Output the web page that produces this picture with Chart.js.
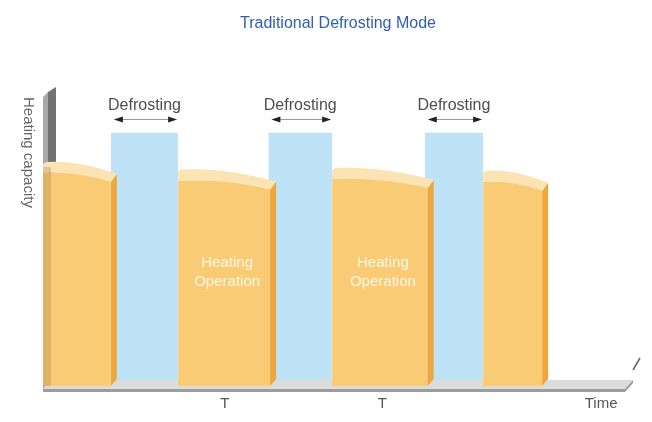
<!DOCTYPE html>
<html>
<head>
<meta charset="utf-8">
<script src="https://cdn.jsdelivr.net/npm/chart.js@4"></script>
<style>
  html, body { margin: 0; padding: 0; background: #fff; }
  #wrap { width: 652px; height: 422px; }
</style>
</head>
<body>
<div id="wrap"><canvas id="defrostChart" width="652" height="422"></canvas></div>
<script>
// heating periods (time units 0..100, capacity 0..100)
var heatStart = [0, 22.9, 49, 74.6];
var heatEnd = [11.5, 38.5, 65.2, 84.6];
var heatLevel = [71.5, 69, 69.5, 68.5];
var heatLabels = ["", "Heating\nOperation", "Heating\nOperation", ""];

// defrost periods
var defrostStart = [11.5, 38.2, 64.7];
var defrostEnd = [22.9, 49, 74.6];
var defrostLevel = [85, 85, 85];
var defrostLabel = "Defrosting";

var tickValues = [30.8, 57.5, 94.6];
var tickLabels = ["T", "T", "Time"];

var FONT = "'Liberation Sans', Arial, sans-serif";
var orange = "#F9CB74";
var orangeSide = "#EFA73C";
var orangeTop = "#FCE3B3";
var blue = "#BEE3F6";

var datasets = [];
heatStart.forEach(function (x0, i) {
    var x1 = heatEnd[i], h = heatLevel[i];
    datasets.push({
        label: "heat" + i,
        data: [{x: x0, y: 0}, {x: x0, y: h}, {x: x1, y: h}, {x: x1, y: 0}],
        backgroundColor: orange,
        borderWidth: 0,
        pointRadius: 0,
        fill: "origin",
        order: 1
    });
});
defrostStart.forEach(function (x0, i) {
    var x1 = defrostEnd[i], h = defrostLevel[i];
    datasets.push({
        label: "defrost" + i,
        data: [{x: x0, y: 2}, {x: x0, y: h}, {x: x1, y: h}, {x: x1, y: 2}],
        backgroundColor: blue,
        borderWidth: 0,
        pointRadius: 0,
        fill: {value: 2},
        order: 2
    });
});

function poly(ctx, pts, color) {
    ctx.beginPath();
    ctx.moveTo(pts[0][0], pts[0][1]);
    for (var i = 1; i < pts.length; i++) ctx.lineTo(pts[i][0], pts[i][1]);
    ctx.closePath();
    ctx.fillStyle = color;
    ctx.fill();
}

// wall and floor behind the bars
var stagePlugin = {
    id: "stage",
    beforeDatasetsDraw: function (chart) {
        var ctx = chart.ctx, a = chart.chartArea;
        var y = chart.scales.y;
        var L = a.left, top = a.top;
        var yF = y.getPixelForValue(0) + 3, yB = y.getPixelForValue(2);
        var R0 = a.right - 8;
        ctx.save();
        poly(ctx, [[L, top + 9], [L + 5, top + 4], [L + 5, yF], [L, yF + 2]], "#A9A9A9");
        poly(ctx, [[L + 5, top + 4], [L + 13, top - 1], [L + 13, yB], [L + 5, yF]], "#727272");
        poly(ctx, [[L, yF], [R0, yF], [R0 + 8, yB], [L + 8, yB]], "#DCDCDC");
        poly(ctx, [[L, yF], [R0, yF], [R0, yF + 3], [L, yF + 3]], "#9C9C9C");
        poly(ctx, [[R0, yF], [R0 + 8, yB], [R0 + 8, yB + 3], [R0, yF + 3]], "#9C9C9C");
        ctx.restore();
    },
    afterDatasetsDraw: function (chart) {
        var ctx = chart.ctx, a = chart.chartArea;
        var xs = chart.scales.x, ys = chart.scales.y;
        var base = ys.getPixelForValue(0);
        ctx.save();

        // caps and side faces of the heating blocks
        heatStart.forEach(function (x0, i) {
            var p0 = xs.getPixelForValue(x0), p1 = xs.getPixelForValue(heatEnd[i]);
            var py = ys.getPixelForValue(heatLevel[i]);
            var w = p1 - p0;
            poly(ctx, [[p1, py + 9], [p1 + 6, py + 1], [p1 + 6, base - 7], [p1, base]], orangeSide);
            ctx.beginPath();
            ctx.moveTo(p0, py);
            ctx.quadraticCurveTo(p0 + 0.55 * w, py - 1, p1, py + 9);
            ctx.lineTo(p1 + 6, py + 1);
            ctx.quadraticCurveTo(p0 + 0.5 * w, py - 13, p0 + 4, py - 11);
            ctx.quadraticCurveTo(p0, py - 10, p0, py - 8);
            ctx.closePath();
            ctx.fillStyle = orangeTop;
            ctx.fill();

            if (heatLabels[i]) {
                ctx.fillStyle = "#FFF7E6";
                ctx.font = "15px " + FONT;
                ctx.textAlign = "center";
                ctx.textBaseline = "middle";
                heatLabels[i].split("\n").forEach(function (line, k) {
                    ctx.fillText(line, (p0 + p1) / 2 + 3, 263 + k * 19);
                });
            }
        });

        // wall showing through the first block
        var c0 = ys.getPixelForValue(heatLevel[0]);
        ctx.fillStyle = "rgba(120, 95, 60, 0.22)";
        ctx.fillRect(a.left, c0 - 6, 8, base - c0 + 6);

        // defrost labels with arrows
        defrostStart.forEach(function (x0, i) {
            var p0 = xs.getPixelForValue(x0), p1 = xs.getPixelForValue(defrostEnd[i]);
            var cx = (p0 + p1) / 2;
            ctx.fillStyle = "#4E4E4E";
            ctx.font = "16px " + FONT;
            ctx.textAlign = "center";
            ctx.textBaseline = "middle";
            ctx.fillText(defrostLabel, cx, 106);
            var ay = 119, l = p0 + 3, r = p1 - 1;
            ctx.strokeStyle = "#9A9A9A";
            ctx.lineWidth = 1;
            ctx.beginPath();
            ctx.moveTo(l + 6, ay + 0.5);
            ctx.lineTo(r - 6, ay + 0.5);
            ctx.stroke();
            poly(ctx, [[l, ay + 0.5], [l + 9, ay - 2.5], [l + 9, ay + 3.5]], "#222");
            poly(ctx, [[r, ay + 0.5], [r - 9, ay - 2.5], [r - 9, ay + 3.5]], "#222");
        });

        // axis break mark at the end of the time axis
        ctx.strokeStyle = "#666";
        ctx.lineWidth = 1.5;
        ctx.beginPath();
        ctx.moveTo(a.right, 370);
        ctx.lineTo(a.right + 7, 358);
        ctx.stroke();

        // vertical axis caption, reading downwards
        ctx.translate(28, 97);
        ctx.rotate(Math.PI / 2);
        ctx.fillStyle = "#666";
        ctx.font = "15px " + FONT;
        ctx.textAlign = "left";
        ctx.textBaseline = "middle";
        ctx.fillText("Heating capacity", 0, 0);
        ctx.restore();
    }
};

new Chart("defrostChart", {
    type: "line",
    data: { datasets: datasets },
    options: {
        responsive: false,
        animation: false,
        layout: { padding: { left: 43, right: 19, top: 0, bottom: 0 } },
        scales: {
            x: {
                type: "linear",
                min: 0,
                max: 100,
                grid: { display: false, drawTicks: false },
                border: { display: false },
                afterBuildTicks: function (scale) {
                    scale.ticks = tickValues.map(function (v) { return { value: v }; });
                },
                afterFit: function (scale) { scale.height = 36; },
                ticks: {
                    autoSkip: false,
                    maxRotation: 0,
                    padding: 9,
                    color: "#555",
                    font: { size: 15, family: FONT },
                    callback: function (v, i) { return tickLabels[i]; }
                }
            },
            y: { display: false, min: 0, max: 100 }
        },
        plugins: {
            legend: { display: false },
            tooltip: { enabled: false },
            title: {
                display: true,
                text: "Traditional Defrosting Mode",
                color: "#2F5FAE",
                font: { size: 16, weight: "normal", family: FONT },
                padding: { top: 14.4, bottom: 54.4 }
            }
        }
    },
    plugins: [stagePlugin]
});
</script>
</body>
</html>
